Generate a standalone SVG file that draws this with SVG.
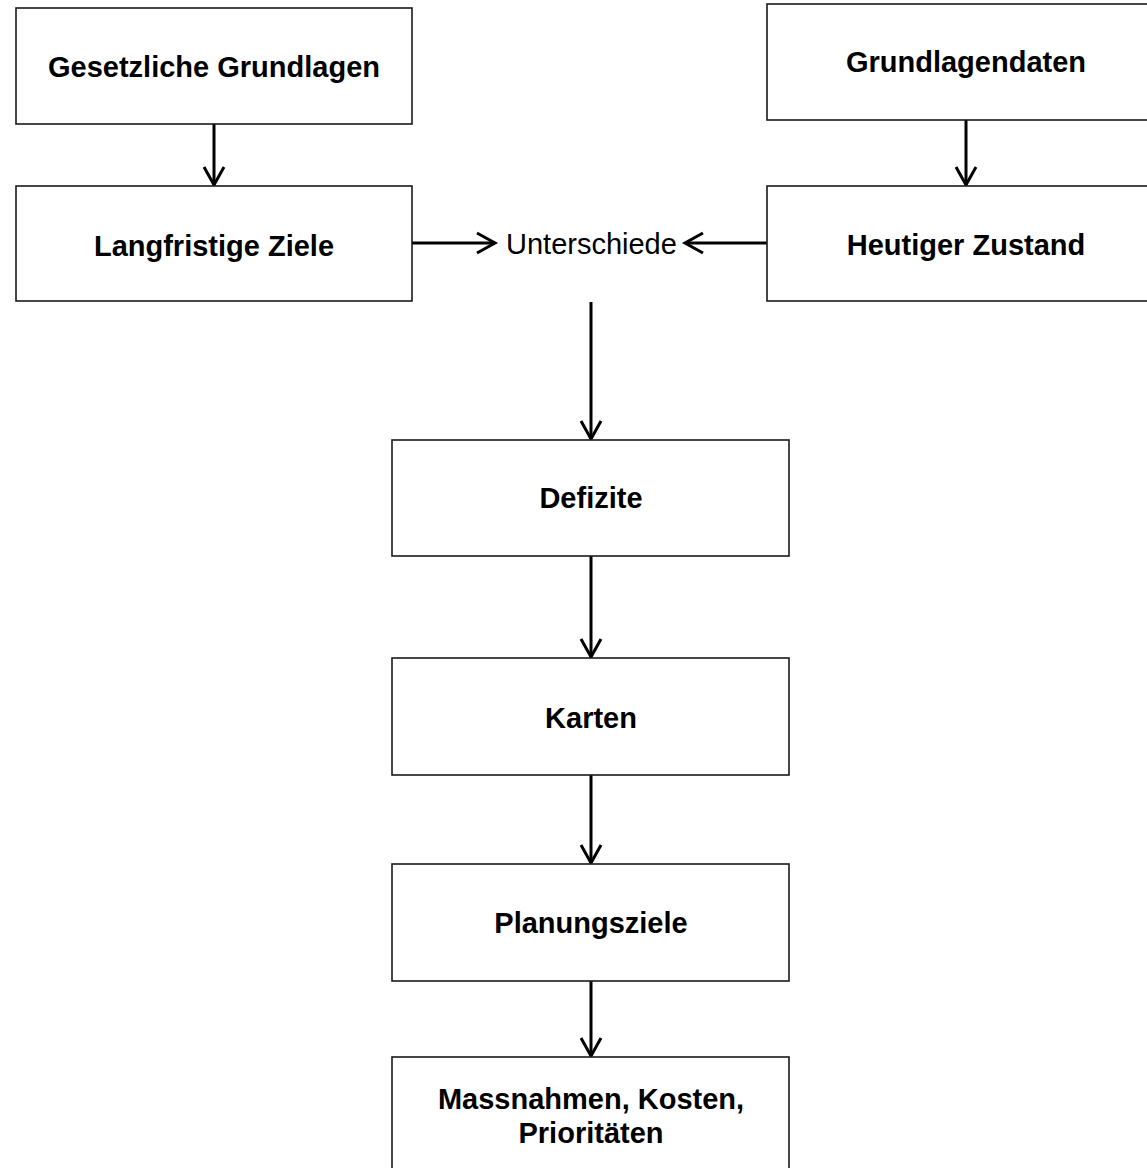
<svg xmlns="http://www.w3.org/2000/svg" width="1147" height="1168" viewBox="0 0 1147 1168">
<style>
.box{fill:#fff;stroke:#1a1a1a;stroke-width:1.6}
.t{font-family:"Liberation Sans",Arial,sans-serif;font-size:29px;font-weight:bold;text-anchor:middle;fill:#000}
.r{font-family:"Liberation Sans",Arial,sans-serif;font-size:29px;fill:#000}
.c{stroke:#000;stroke-width:3;fill:none;marker-end:url(#ah)}
</style>
<defs>
<marker id="ah" markerUnits="userSpaceOnUse" viewBox="-20 -12 22 24" refX="0" refY="0" markerWidth="22" markerHeight="24" orient="auto" overflow="visible">
<path d="M-18,-10 L0,0 L-18,10" fill="none" stroke="#000" stroke-width="3"/>
</marker>
</defs>
<rect width="1147" height="1168" fill="#fff"/>
<g id="connectors">
<line class="c" x1="214" y1="124" x2="214" y2="185"/>
<line class="c" x1="966" y1="120" x2="966" y2="185"/>
<line class="c" x1="412" y1="243" x2="495" y2="243"/>
<line class="c" x1="767" y1="243" x2="685" y2="243"/>
<line class="c" x1="591" y1="302" x2="591" y2="439"/>
<line class="c" x1="591" y1="556" x2="591" y2="657"/>
<line class="c" x1="591" y1="775" x2="591" y2="863"/>
<line class="c" x1="591" y1="981" x2="591" y2="1056"/>
</g>
<g id="n-gesetzliche"><rect class="box" x="16" y="8" width="396" height="116"/><text class="t" x="214" y="77">Gesetzliche Grundlagen</text></g>
<g id="n-langfristige"><rect class="box" x="16" y="186" width="396" height="115"/><text class="t" x="214" y="256">Langfristige Ziele</text></g>
<g id="n-grundlagendaten"><rect class="box" x="767" y="4" width="420" height="116"/><text class="t" x="966" y="72">Grundlagendaten</text></g>
<g id="n-heutiger"><rect class="box" x="767" y="186" width="420" height="115"/><text class="t" x="966" y="255">Heutiger Zustand</text></g>
<g id="n-unterschiede"><text class="r" x="506" y="254">Unterschiede</text></g>
<g id="n-defizite"><rect class="box" x="392" y="440" width="397" height="116"/><text class="t" x="591" y="508">Defizite</text></g>
<g id="n-karten"><rect class="box" x="392" y="658" width="397" height="117"/><text class="t" x="591" y="728">Karten</text></g>
<g id="n-planungsziele"><rect class="box" x="392" y="864" width="397" height="117"/><text class="t" x="591" y="933">Planungsziele</text></g>
<g id="n-massnahmen"><rect class="box" x="392" y="1057" width="397" height="130"/><text class="t" x="591" y="1109">Massnahmen, Kosten,</text><text class="t" x="591" y="1143">Prioritäten</text></g>
</svg>
